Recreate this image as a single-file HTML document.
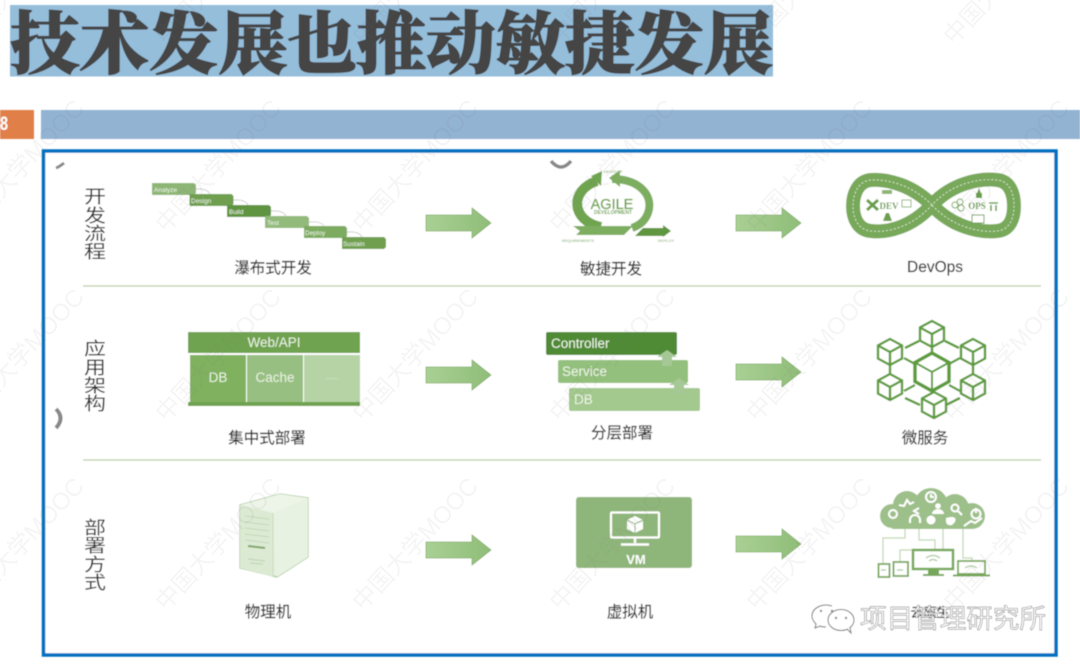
<!DOCTYPE html>
<html><head><meta charset="utf-8"><style>
html,body{margin:0;padding:0;background:#fff;width:1080px;height:666px;overflow:hidden}
svg{display:block}
text{font-family:"Liberation Sans","Noto Sans CJK SC",sans-serif}
.cn{font-size:15.5px;fill:#2f2f2f;text-anchor:middle;stroke:#2f2f2f;stroke-width:.15}
.wm text{font-size:24px;fill:#777;fill-opacity:.075}
.side{font-size:20px;fill:#333}
</style></head><body>
<svg width="1080" height="666" viewBox="0 0 1080 666" xmlns="http://www.w3.org/2000/svg">
<defs>
<filter id="b" x="-5%" y="-5%" width="110%" height="110%"><feGaussianBlur stdDeviation="0.5"/></filter>
<linearGradient id="ag" x1="0" x2="1" y1="0" y2="0"><stop offset="0" stop-color="#a9d094"/><stop offset="1" stop-color="#8fbd78"/></linearGradient>
</defs>
<g filter="url(#b)">
<rect x="10" y="5" width="763" height="71.5" fill="#95bedb"/>
<text x="10" y="68" font-size="68" font-weight="900" textLength="763" lengthAdjust="spacingAndGlyphs" style="font-family:'Noto Serif CJK SC','Liberation Serif',serif" fill="#444" stroke="#444" stroke-width="1.2">技术发展也推动敏捷发展</text>
<rect x="0" y="110" width="34" height="29" fill="#e07f46"/>
<text x="0" y="130" font-size="19" font-weight="700" fill="#fff" textLength="8" lengthAdjust="spacingAndGlyphs">8</text>
<rect x="41" y="110" width="1039" height="29" fill="#92b3d2"/>
<rect x="43.5" y="151" width="1012.500" height="504" fill="#fff" stroke="#0070c0" stroke-width="3.500"/>

<path d="M56 168q3-1 8-5" stroke="#888" stroke-width="3" fill="none"/>
<path d="M551 161q10 12 20 0" stroke="#888" stroke-width="3.500" fill="none"/>
<path d="M56 409q9 9 0 19" stroke="#888" stroke-width="4" fill="none"/>

<line x1="83" y1="286" x2="1041" y2="286" stroke="#b4cea2" stroke-width="1.300"/>
<line x1="83" y1="460" x2="1041" y2="460" stroke="#b4cea2" stroke-width="1.300"/>

<g class="side">
<text transform="translate(84,203) scale(1.1,.92)">开</text>
<text transform="translate(84,222) scale(1.1,.92)">发</text>
<text transform="translate(84,240) scale(1.1,.92)">流</text>
<text transform="translate(84,258) scale(1.1,.92)">程</text>
<text transform="translate(84,355) scale(1.1,.92)">应</text>
<text transform="translate(84,374) scale(1.1,.92)">用</text>
<text transform="translate(84,392) scale(1.1,.92)">架</text>
<text transform="translate(84,410) scale(1.1,.92)">构</text>
<text transform="translate(84,534) scale(1.1,.92)">部</text>
<text transform="translate(84,552) scale(1.1,.92)">署</text>
<text transform="translate(84,571) scale(1.1,.92)">方</text>
<text transform="translate(84,589) scale(1.1,.92)">式</text>
</g>

<!-- arrows -->
<g fill="url(#ag)" stroke="#84b16b" stroke-width=".8">
<path d="M426 215h46v-7l19 15-19 15v-7h-46z"/>
<path d="M736 215h46v-7l19 15-19 15v-7h-46z"/>
<path d="M426 367h46v-7l19 15-19 15v-7h-46z"/>
<path d="M736 364h46v-7l19 15-19 15v-7h-46z"/>
<path d="M426 542h46v-7l19 15-19 15v-7h-46z"/>
<path d="M736 536h46v-7l19 15-19 15v-7h-46z"/>
</g>

<!-- waterfall -->
<g fill="none" stroke="#bbb" stroke-width=".7">
<path d="M195 189q12-1 15 5"/><path d="M233 200q12-1 15 5"/><path d="M271 211q12-1 15 5"/><path d="M309 222q12-1 15 4"/><path d="M347 232q12-1 15 5"/>
</g>
<path d="M152 183h42l2 2v8l-2 2h-42z" fill="#8db574"/>
<path d="M189.500 194h42l2 2v8l-2 2h-42z" fill="#6fa050"/>
<path d="M227 205h42l2 2v8l-2 2h-42z" fill="#5f9440"/>
<path d="M265 216h42l2 2v8l-2 2h-42z" fill="#92ba7a"/>
<path d="M304 226h41l2 2v8l-2 2h-41z" fill="#7dab60"/>
<path d="M342 237h42l2 2v8l-2 2h-42z" fill="#6fa050"/>
<g font-size="6.500" fill="#eef5e8">
<text x="154" y="192">Analyze</text><text x="191" y="203">Design</text><text x="229" y="214">Build</text><text x="267" y="225">Test</text><text x="305" y="235">Deploy</text><text x="343" y="246">Sustain</text>
</g>
<text x="273" y="273" class="cn">瀑布式开发</text>

<!-- agile -->
<path d="M601 227C571 221 569 190 597 181" fill="none" stroke="#6fa54f" stroke-width="10"/>
<path d="M612 179C640 179 654 196 648 213C645 221 640 225 632 228" fill="none" stroke="#7dae60" stroke-width="8"/>
<path d="M591 176l11-5-1 15z" fill="#6fa54f"/>
<path d="M609 178l11-8v17z" fill="#7dae60"/>
<path d="M573 226h60l-9 9h-48l4-4z" fill="#7dae60"/>
<path d="M635 236l8-8h20v-3l8 6-8 6v-1z" fill="#5f963f"/>
<text x="612" y="209" text-anchor="middle" font-size="14.500" fill="#6fa54f" stroke="#6fa54f" stroke-width=".3">AGILE</text>
<text x="613" y="214" text-anchor="middle" font-size="5" font-weight="700" fill="#6fa54f">DEVELOPMENT</text>
<g font-size="4" font-weight="700" fill="#a8c49a" text-anchor="middle">
<text x="613" y="173">DEVELOP</text><text x="578" y="242">REQUIREMENTS</text><text x="666" y="242">DEPLOY</text>
</g>
<text x="611" y="274" class="cn">敏捷开发</text>

<!-- devops -->
<path d="M932 205C912 185 888 179 871 180C858 181 853 194 853 206C853 218 858 230 871 231C888 233 912 227 932 205C952 183 980 178 997 180C1010 181 1014 194 1014 206C1014 218 1010 230 997 231C980 233 952 227 932 205Z" fill="none" stroke="#78a95a" stroke-width="14"/>
<path d="M932 205C912 185 888 179 871 180C858 181 853 194 853 206C853 218 858 230 871 231C888 233 912 227 932 205C952 183 980 178 997 180C1010 181 1014 194 1014 206C1014 218 1010 230 997 231C980 233 952 227 932 205Z" fill="none" stroke="#e6f0df" stroke-width=".8" stroke-dasharray="2 2"/>
<path d="M867 200l11 10M878 200l-11 10" stroke="#6b9f4c" stroke-width="3"/>
<text x="889" y="209" font-size="9" font-weight="700" fill="#6b9f4c" style="font-family:'Liberation Serif',serif" text-anchor="middle">DEV</text>
<rect x="902" y="200" width="9" height="7" fill="#fff" stroke="#8bb571"/>
<rect x="882" y="190" width="10" height="4" fill="#8bb571"/>
<path d="M886 213h3l3 8h-9z" fill="#6b9f4c"/>
<circle cx="955" cy="205" r="3" fill="none" stroke="#78a95a"/><circle cx="960" cy="202" r="3" fill="none" stroke="#78a95a"/><circle cx="961" cy="208" r="3" fill="none" stroke="#78a95a"/>
<text x="977" y="209" font-size="9" font-weight="700" fill="#6b9f4c" style="font-family:'Liberation Serif',serif" text-anchor="middle">OPS</text>
<path d="M979 188l3 8h-6z" fill="#6b9f4c"/>
<rect x="976" y="193" width="6" height="5" fill="#6b9f4c"/>
<path d="M989 203h9M991 205v6M996 205v6" stroke="#6b9f4c" stroke-width="1.600"/>
<rect x="972" y="215" width="12" height="8" fill="#fff" stroke="#6b9f4c"/>
<text x="935" y="272" class="cn">DevOps</text>

<!-- centralized -->
<rect x="188" y="332" width="172" height="21" fill="#6fa34f"/>
<rect x="190" y="355" width="56" height="47" fill="#7fb15f"/>
<rect x="247" y="355" width="56" height="47" fill="#98bf82"/>
<rect x="304" y="355" width="56" height="47" fill="#b5d3a4"/>
<rect x="188" y="402" width="172" height="4" fill="#6fa34f"/>
<g fill="#e8f2e0" text-anchor="middle" font-size="13.500">
<text x="274" y="347">Web/API</text><text x="218" y="382">DB</text><text x="275" y="382">Cache</text><text x="332" y="379" font-size="8">......</text>
</g>
<text x="267" y="443" class="cn">集中式部署</text>

<!-- layered -->
<rect x="546" y="332" width="131" height="23" rx="2" fill="#4f8a35"/>
<rect x="558" y="360" width="130" height="23" rx="2" fill="#93c07c"/>
<rect x="569" y="388" width="131" height="23" rx="2" fill="#a3c98e"/>
<path d="M667 350l10 7h-5v9h-10v-9h-5z" fill="#a6c896"/>
<path d="M679 378l10 7h-5v9h-10v-9h-5z" fill="#a6c896"/>
<g font-size="13.500" fill="#eef5e8">
<text x="551" y="348">Controller</text><text x="562" y="376">Service</text><text x="574" y="404">DB</text>
</g>
<text x="622" y="438" class="cn">分层部署</text>

<!-- microservices -->
<g stroke="#5c9c3b" fill="none" stroke-width="2.400">
<path d="M932 347V354M945 341l14 7M960 358l-11 6M904 358l11 6M919 341l-14 7M890 365v9M973 365v9M904 391l11-6M949 385l11 6M946 405l14-7M920 405l-15-7M932 391v2"/>
<path d="M932 321l12 6.500v13l-12 6.500-12-6.500v-13zM920 327.500l12 6.500 12-6.500M932 334v13"/>
<path d="M973 339l12 6.500v13l-12 6.500-12-6.500v-13zM961 345.500l12 6.500 12-6.500M973 352v13"/>
<path d="M973 374l12 6.500v13l-12 6.500-12-6.500v-13zM961 380.500l12 6.500 12-6.500M973 387v13"/>
<path d="M934 392l12 6.500v13l-12 6.500-12-6.500v-13zM922 398.500l12 6.500 12-6.500M934 405v13"/>
<path d="M890 374l12 6.500v13l-12 6.500-12-6.500v-13zM878 380.500l12 6.500 12-6.500M890 387v13"/>
<path d="M890 339l12 6.500v13l-12 6.500-12-6.500v-13zM878 345.500l12 6.500 12-6.500M890 352v13"/>
<path stroke-width="3.500" d="M932 353l17 9.500v19l-17 9.500-17-9.500v-19z"/>
<path stroke-width="2" d="M915 362.500l17 9.500 17-9.500M932 372v19"/>
</g>
<text x="925" y="443" class="cn">微服务</text>

<!-- server -->
<path d="M240 505L280 494L308 498V557L277 577L240 568Z" fill="#e6f0df" stroke="#a9c899" stroke-width="1.300"/>
<path d="M273 513L308 498V557L277 577Z" fill="#e8f2e2"/>
<path d="M240 505L280 494L308 498L273 513Z" fill="#edf4e8"/>
<path d="M240 505L273 513V577L240 568Z" fill="#dcead3"/>
<path d="M273 513V577" stroke="#c9dcbe"/>
<g stroke="#c4d8b8" stroke-width="1"><path d="M245 516l24 3M245 522l24 3M245 528l24 3M245 534l24 3M245 540l24 3"/></g>
<path d="M248 546l17 2" stroke="#7fa66b" stroke-width="2"/>
<path d="M248 559l17 2M250 563l13 1" stroke="#bcd2ae"/>
<text x="268" y="617" class="cn">物理机</text>

<!-- VM -->
<rect x="576" y="497" width="116" height="71" rx="3" fill="#8fb67a"/>
<rect x="611" y="512.500" width="48" height="25" rx="1" fill="none" stroke="#fff" stroke-width="2.200"/>
<path d="M635 538v5M621 544.500h28" stroke="#fff" stroke-width="2.500"/>
<path d="M635 516l8 4v9l-8 4-8-4v-9z" fill="#fff"/>
<path d="M627 520l8 4 8-4M635 524v9" stroke="#8fb67a" fill="none"/>
<text x="636" y="564" text-anchor="middle" font-size="13" font-weight="700" fill="#fff">VM</text>
<text x="630" y="617" class="cn">虚拟机</text>

<!-- cloud -->
<g fill="#9dbf8a">
<circle cx="892" cy="516" r="12"/><circle cx="907" cy="505" r="14"/><circle cx="931" cy="505" r="17"/><circle cx="955" cy="508" r="14"/><circle cx="972" cy="516" r="13"/>
<rect x="892" y="508" width="80" height="21"/>
</g>
<g fill="none" stroke="#fff" stroke-width="2">
<circle cx="893" cy="514" r="4"/>
<path d="M899 505l5 1 3-6 3 4 4-2"/>
<circle cx="931" cy="497" r="5"/><path d="M931 494v3h3"/>
<path d="M919 508l-5 3 5 3"/>
<circle cx="955" cy="508" r="3.500"/><path d="M958 511l4 4"/>
<circle cx="976" cy="514" r="4.500"/><path d="M976 508v5"/>
<path d="M910 523v-3a5 5 0 0 1 10 0v3"/>
<path d="M964 526l7-5 4 2 7-5"/>
</g>
<g fill="#fff"><circle cx="938" cy="506" r="2.800"/><path d="M932 514a6 5 0 0 1 12 0z"/><circle cx="931" cy="520" r="4.500"/><path d="M946 518q7-2 9 0q2 3-3 7q-5 1-6-3z"/></g>
<g fill="none" stroke="#c0d6b2" stroke-width="1.200"><path d="M905 529V538H883V564"/><path d="M919 529V540H935V549"/><path d="M943 529V550H900V562"/><path d="M963 529V558H972V560"/></g>
<g fill="none" stroke="#77a85a">
<rect x="878.500" y="564" width="11" height="13" stroke-width="1.800"/>
<rect x="893.500" y="562" width="14.500" height="14" stroke-width="1.800"/>
<rect x="913" y="550" width="40" height="19" stroke-width="2.500"/>
<rect x="958" y="561" width="27" height="13" stroke-width="1.800"/>
</g>
<path d="M928 569h11v5h5v2h-21v-2h5z" fill="#77a85a"/>
<rect x="953" y="574.500" width="37" height="2" fill="#77a85a"/>
<g fill="none" stroke="#a8c898" stroke-width="1.200"><path d="M926 558q7-5 14 0M929 561q4-3 8 0M965 568q6-4 12 0M881 570h5M897 570h6"/></g>

<!-- hidden label + logo -->
<text x="930" y="617" class="cn" style="font-size:13px">云原生</text>
<text x="860" y="628" font-size="26.500" fill="#fff" stroke="#666" stroke-width=".5" textLength="186" lengthAdjust="spacingAndGlyphs" style="font-family:'Noto Sans CJK SC',sans-serif">项目管理研究所</text>
<g fill="#fff" stroke="#777" stroke-width="1">
<path d="M832 606c-10-3-20 2-20 10 0 3 2 6 4 8l-1 4 5-2c2 1 4 1 6 1"/>
<ellipse cx="841" cy="620" rx="13" ry="10.500"/>
<path d="M847 629l4 4-1-6" />
</g>
<g fill="#888"><circle cx="821" cy="611" r="1.200"/><circle cx="832" cy="611" r="1.200"/><circle cx="836" cy="618" r="1.200"/><circle cx="846" cy="618" r="1.200"/></g>
</g>

<!-- watermarks -->
<g class="wm">
<text transform="translate(-31,46) rotate(-47)">中国大学MOOC</text><text transform="translate(166,46) rotate(-47)">中国大学MOOC</text><text transform="translate(363,46) rotate(-47)">中国大学MOOC</text><text transform="translate(560,46) rotate(-47)">中国大学MOOC</text><text transform="translate(757,46) rotate(-47)">中国大学MOOC</text><text transform="translate(954,46) rotate(-47)">中国大学MOOC</text>
<text transform="translate(-31,234) rotate(-47)">中国大学MOOC</text><text transform="translate(166,234) rotate(-47)">中国大学MOOC</text><text transform="translate(363,234) rotate(-47)">中国大学MOOC</text><text transform="translate(560,234) rotate(-47)">中国大学MOOC</text><text transform="translate(757,234) rotate(-47)">中国大学MOOC</text><text transform="translate(954,234) rotate(-47)">中国大学MOOC</text>
<text transform="translate(-31,423) rotate(-47)">中国大学MOOC</text><text transform="translate(166,423) rotate(-47)">中国大学MOOC</text><text transform="translate(363,423) rotate(-47)">中国大学MOOC</text><text transform="translate(560,423) rotate(-47)">中国大学MOOC</text><text transform="translate(757,423) rotate(-47)">中国大学MOOC</text><text transform="translate(954,423) rotate(-47)">中国大学MOOC</text>
<text transform="translate(-31,612) rotate(-47)">中国大学MOOC</text><text transform="translate(166,612) rotate(-47)">中国大学MOOC</text><text transform="translate(363,612) rotate(-47)">中国大学MOOC</text><text transform="translate(560,612) rotate(-47)">中国大学MOOC</text><text transform="translate(757,612) rotate(-47)">中国大学MOOC</text><text transform="translate(954,612) rotate(-47)">中国大学MOOC</text>
</g>
</svg>
</body></html>
